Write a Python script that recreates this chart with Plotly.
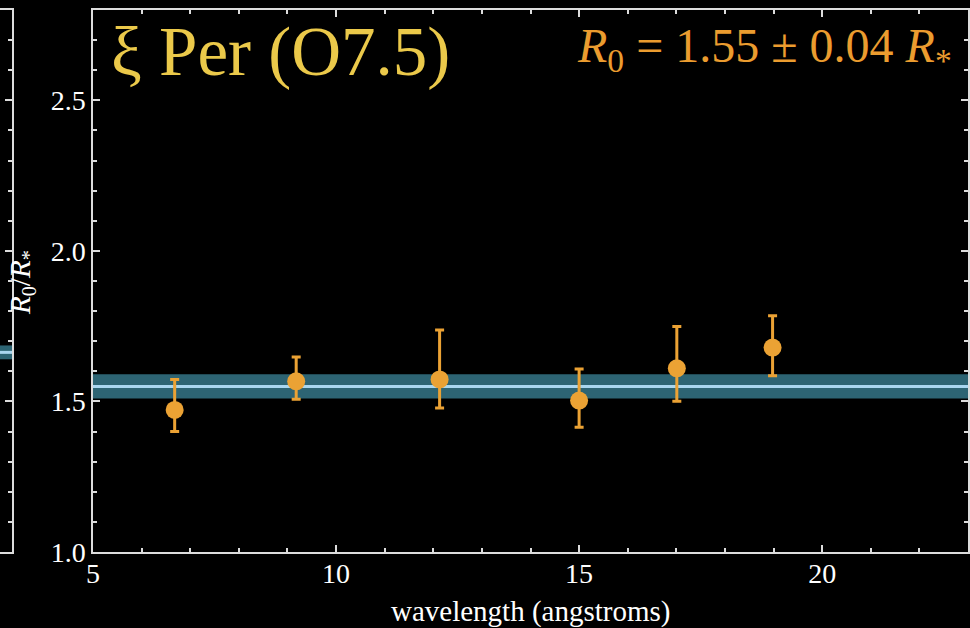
import plotly.graph_objects as go

# Measured source size R0/R* versus wavelength for xi Per
wavelength = [6.68, 9.18, 12.13, 15.0, 17.01, 18.98]
r0_ratio = [1.472, 1.567, 1.573, 1.503, 1.610, 1.679]
err_plus = [0.101, 0.081, 0.164, 0.105, 0.139, 0.106]
err_minus = [0.072, 0.060, 0.095, 0.089, 0.109, 0.094]

# Weighted-mean fit and its uncertainty
fit_center = 1.55
fit_err = 0.04

# Fit band of the neighbouring panel (only its right edge shows)
neighbor_center = 1.663
neighbor_err = 0.023

x_range = [5, 23]
y_range = [1.0, 2.8]
x_ticks = [5, 10, 15, 20]
y_ticks = [1.0, 1.5, 2.0, 2.5]
y_ticktext = ["1.0", "1.5", "2.0", "2.5"]

W, H = 970, 628
ORANGE = "#eba234"
BAND = "#2d6473"
LINE = "#a9d6ef"
AXIS = "#dcdcdc"
SERIF = "Liberation Serif, Times New Roman, serif"

fig = go.Figure()

# fit band (main panel)
fig.add_trace(go.Scatter(x=x_range, y=[fit_center - fit_err] * 2, mode="lines",
                         line=dict(width=0, color=BAND), hoverinfo="skip",
                         showlegend=False, xaxis="x", yaxis="y"))
fig.add_trace(go.Scatter(x=x_range, y=[fit_center + fit_err] * 2, mode="lines",
                         line=dict(width=0, color=BAND), fill="tonexty",
                         fillcolor=BAND, hoverinfo="skip", showlegend=False,
                         xaxis="x", yaxis="y"))
fig.add_trace(go.Scatter(x=x_range, y=[fit_center] * 2, mode="lines",
                         line=dict(width=3, color=LINE), hoverinfo="skip",
                         showlegend=False, xaxis="x", yaxis="y"))

# measurements with asymmetric error bars
fig.add_trace(go.Scatter(
    x=wavelength, y=r0_ratio, mode="markers",
    marker=dict(size=18, color=ORANGE, line=dict(width=0)),
    error_y=dict(type="data", symmetric=False, array=err_plus,
                 arrayminus=err_minus, color=ORANGE, thickness=3, width=4.5),
    showlegend=False, xaxis="x", yaxis="y"))

# neighbouring panel band
nb_x = [0, 1]
fig.add_trace(go.Scatter(x=nb_x, y=[neighbor_center - neighbor_err] * 2, mode="lines",
                         line=dict(width=0, color=BAND), hoverinfo="skip",
                         showlegend=False, xaxis="x2", yaxis="y2"))
fig.add_trace(go.Scatter(x=nb_x, y=[neighbor_center + neighbor_err] * 2, mode="lines",
                         line=dict(width=0, color=BAND), fill="tonexty",
                         fillcolor=BAND, hoverinfo="skip", showlegend=False,
                         xaxis="x2", yaxis="y2"))
fig.add_trace(go.Scatter(x=nb_x, y=[neighbor_center] * 2, mode="lines",
                         line=dict(width=3, color=LINE), hoverinfo="skip",
                         showlegend=False, xaxis="x2", yaxis="y2"))

ydom = [76 / H, 618 / H]
tickfont = dict(family=SERIF, size=28, color="white")

fig.update_layout(
    width=W, height=H,
    margin=dict(l=0, r=0, t=0, b=0, autoexpand=False),
    paper_bgcolor="black", plot_bgcolor="black",
    showlegend=False,
    xaxis=dict(domain=[93 / W, 968 / W], range=x_range, tickvals=x_ticks,
               ticks="inside", ticklen=7, tickwidth=1.5, tickcolor=AXIS,
               minor=dict(dtick=1, ticks="inside", ticklen=4, tickwidth=1.5,
                          tickcolor=AXIS, showgrid=False),
               showline=True, linecolor=AXIS, linewidth=1.5, mirror="ticks",
               showgrid=False, zeroline=False, tickfont=tickfont,
               ticklabelstandoff=-4, automargin=False, anchor="y"),
    yaxis=dict(domain=ydom, range=y_range, tickvals=y_ticks, ticktext=y_ticktext,
               ticks="inside", ticklen=7, tickwidth=1.5, tickcolor=AXIS,
               minor=dict(dtick=0.1, ticks="inside", ticklen=4, tickwidth=1.5,
                          tickcolor=AXIS, showgrid=False),
               showline=True, linecolor=AXIS, linewidth=1.5, mirror="ticks",
               showgrid=False, zeroline=False, tickfont=tickfont,
               automargin=False, anchor="x"),
    xaxis2=dict(domain=[0, 12 / W], range=[0, 1], showticklabels=False,
                ticks="", showline=True, linecolor=AXIS, linewidth=1.5,
                mirror=True, showgrid=False, zeroline=False,
                automargin=False, anchor="y2"),
    yaxis2=dict(domain=ydom, range=y_range, side="right", anchor="x2",
                tickvals=y_ticks, showticklabels=False,
                ticks="inside", ticklen=7, tickwidth=1.5, tickcolor=AXIS,
                minor=dict(dtick=0.1, ticks="inside", ticklen=4, tickwidth=1.5,
                           tickcolor=AXIS, showgrid=False),
                showline=True, linecolor=AXIS, linewidth=1.5,
                showgrid=False, zeroline=False, automargin=False),
)

annotations = [
    dict(text="ξ Per (O7.5)", x=109 / W, y=1 - 52 / H, xref="paper", yref="paper",
         xanchor="left", yanchor="middle", showarrow=False,
         font=dict(family=SERIF, size=69, color="#ebc94a")),
    dict(text="<i>R</i><sub>0</sub> = 1.55 ± 0.04 <i>R</i><sub>*</sub>",
         x=954 / W, y=1 - 49 / H, xref="paper", yref="paper",
         xanchor="right", yanchor="middle", showarrow=False,
         font=dict(family=SERIF, size=48, color="#eb9c2f")),
    dict(text="wavelength (angstroms)", x=530 / W, y=1 - 611 / H,
         xref="paper", yref="paper", xanchor="center", yanchor="middle",
         showarrow=False, font=dict(family=SERIF, size=29, color="white")),
    dict(text="<i>R</i><sub>0</sub>/<i>R</i><sub>*</sub>", x=22 / W, y=1 - 283 / H,
         xref="paper", yref="paper", xanchor="center", yanchor="middle",
         textangle=-90, showarrow=False,
         font=dict(family=SERIF, size=29, color="white")),
]
fig.update_layout(annotations=annotations)

fig.write_html("out.html")
